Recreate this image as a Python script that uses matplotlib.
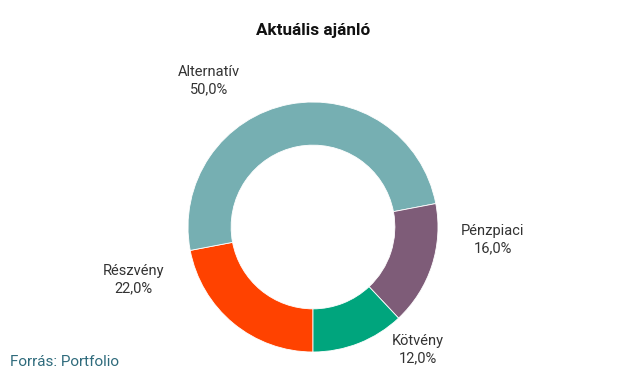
import matplotlib
matplotlib.use("Agg")
import matplotlib.pyplot as plt

# adatok
categories = ['Részvény', 'Alternatív', 'Pénzpiaci', 'Kötvény']
shares = [22.0, 50.0, 16.0, 12.0]
colors = ['#FF4200', '#76AFB2', '#7E5C78', '#00A57D']

plt.rcParams['font.family'] = ['Roboto', 'DejaVu Sans']

W, H, DPI = 631, 378, 100
fig = plt.figure(figsize=(W / DPI, H / DPI), dpi=DPI)
ax = fig.add_axes([0, 0, 1, 1])

# kör középpontja és sugara pixelben
cx, cy, r = 313, 227, 125

ax.pie(shares, colors=colors, startangle=270, counterclock=False,
       radius=1, wedgeprops=dict(width=0.345, edgecolor='white', linewidth=0.6))

# címkék (sugár egységben a középponthoz képest)
label_pos = {
    'Alternatív': (-0.83, 1.17),
    'Pénzpiaci': (1.44, -0.10),
    'Kötvény': (0.84, -0.98),
    'Részvény': (-1.44, -0.42),
}
for name, val in zip(categories, shares):
    x, y = label_pos[name]
    ax.text(x, y, f"{name}\n{val:.1f}%".replace('.', ','), ha='center', va='center',
            fontsize=10.5, color='#333333', linespacing=1.3)

ax.set_xlim(-cx / r, (W - cx) / r)
ax.set_ylim(-(H - cy) / r, cy / r)
ax.set_aspect('equal', adjustable='box')
ax.axis('off')

fig.text(313 / W, 1 - 30 / H, 'Aktuális ajánló', ha='center', va='center',
         fontsize=12.3, fontweight='bold', color='#111111')
fig.text(10 / W, 1 - 362 / H, 'Forrás: Portfolio', ha='left', va='center',
         fontsize=11, color='#2F6B7C')

fig.savefig('out.png', dpi=DPI)
